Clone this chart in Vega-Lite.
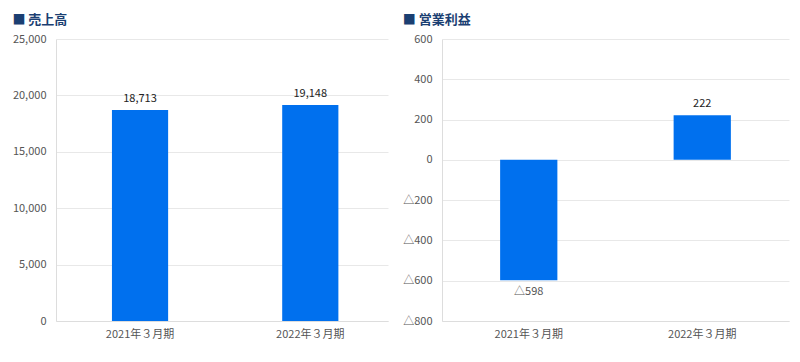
{
  "$schema": "https://vega.github.io/schema/vega-lite/v6.json",
  "padding": {"left": 12, "top": 14, "right": 5, "bottom": 5},
  "background": "white",
  "config": {
    "font": "Noto Sans CJK JP",
    "view": {"stroke": null},
    "axis": {"labelFont": "Noto Sans CJK JP", "labelFontSize": 11, "labelColor": "#555555", "gridColor": "#e8e8e8", "domainColor": "#dddddd", "ticks": false, "title": null},
    "title": {"anchor": "start", "frame": "bounds", "fontSize": 13, "fontWeight": "bold", "color": "#1b3f72", "font": "Noto Sans CJK JP", "offset": 6},
    "concat": {"spacing": 14}
  },
  "datasets": {
    "sales": [
      {"period": "2021年３月期", "value": 18713, "label": "18,713"},
      {"period": "2022年３月期", "value": 19148, "label": "19,148"}
    ],
    "profit": [
      {"period": "2021年３月期", "value": -598, "label": "△598"},
      {"period": "2022年３月期", "value": 222, "label": "222"}
    ]
  },
  "hconcat": [
    {
      "title": {"text": "■ 売上高"},
      "width": 332,
      "height": 282,
      "data": {"name": "sales"},
      "encoding": {
        "x": {"field": "period", "type": "nominal", "sort": null, "scale": {"paddingInner": 0.67, "paddingOuter": 0.31, "align": 0.53}, "axis": {"labelAngle": 0, "grid": false, "labelPadding": 7}}
      },
      "layer": [
        {
          "mark": {"type": "bar", "color": "#0070ee"},
          "encoding": {
            "y": {"field": "value", "type": "quantitative", "scale": {"domain": [0, 25000], "nice": false}, "axis": {"values": [0, 5000, 10000, 15000, 20000, 25000], "labelExpr": "format(datum.value, ',')", "labelPadding": 10}}
          }
        },
        {
          "mark": {"type": "text", "dy": -6, "baseline": "bottom", "fontSize": 11, "color": "#222222"},
          "encoding": {
            "y": {"field": "value", "type": "quantitative"},
            "text": {"field": "label"}
          }
        }
      ]
    },
    {
      "title": {"text": "■ 営業利益"},
      "width": 347,
      "height": 282,
      "data": {"name": "profit"},
      "encoding": {
        "x": {"field": "period", "type": "nominal", "sort": null, "scale": {"paddingInner": 0.67, "paddingOuter": 0.335}, "axis": {"labelAngle": 0, "grid": false, "labelPadding": 7}}
      },
      "layer": [
        {
          "mark": {"type": "bar", "color": "#0070ee"},
          "encoding": {
            "y": {"field": "value", "type": "quantitative", "scale": {"domain": [-800, 600], "nice": false}, "axis": {"values": [-800, -600, -400, -200, 0, 200, 400, 600], "labelExpr": "datum.value < 0 ? '△' + format(-datum.value, ',') : format(datum.value, ',')", "labelPadding": 10}}
          }
        },
        {
          "transform": [{"filter": "datum.value >= 0"}],
          "mark": {"type": "text", "dy": -6, "baseline": "bottom", "fontSize": 11, "color": "#222222"},
          "encoding": {
            "y": {"field": "value", "type": "quantitative"},
            "text": {"field": "label"}
          }
        },
        {
          "transform": [{"filter": "datum.value < 0"}],
          "mark": {"type": "text", "dy": 6, "baseline": "top", "fontSize": 11, "color": "#555555"},
          "encoding": {
            "y": {"field": "value", "type": "quantitative"},
            "text": {"field": "label"}
          }
        }
      ]
    }
  ]
}
